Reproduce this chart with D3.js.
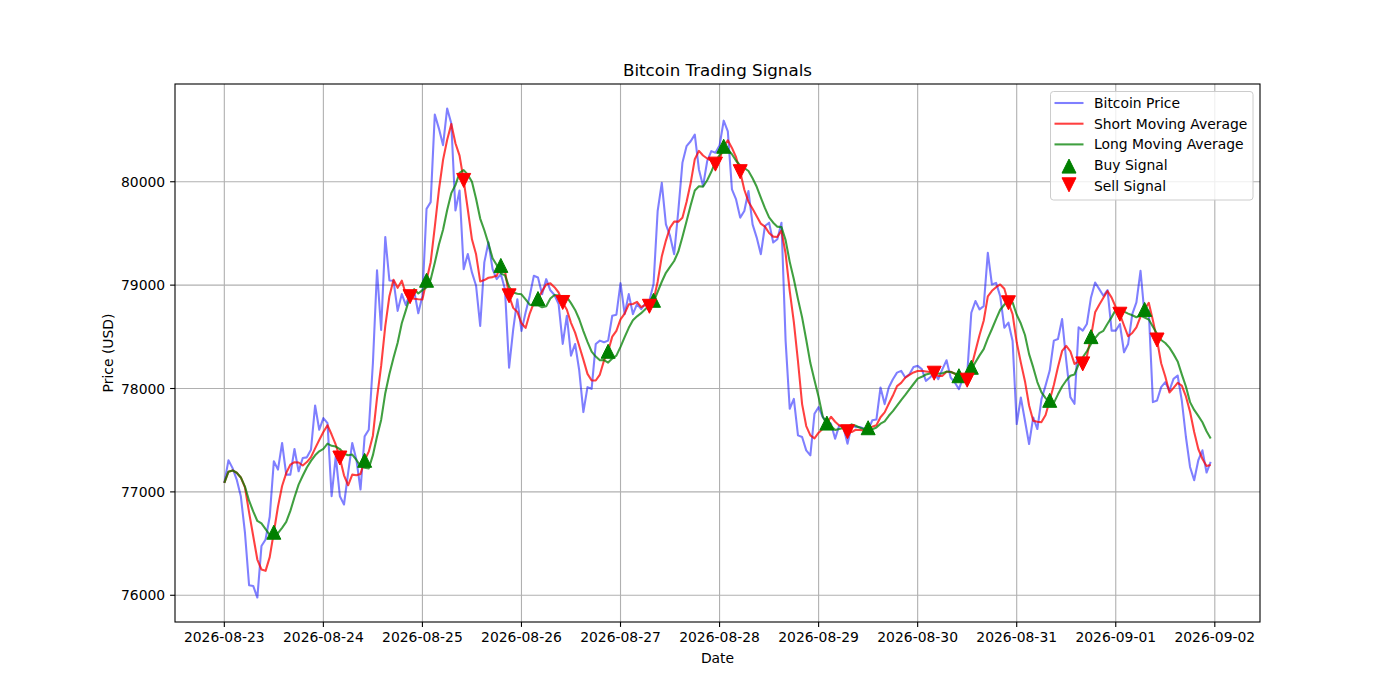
<!DOCTYPE html>
<html>
<head>
<meta charset="utf-8">
<script src="https://cdn.jsdelivr.net/npm/d3@7"></script>
<style>
  body { margin: 0; background: #fff; }
  text { font-family: "DejaVu Sans", sans-serif; fill: #000; }
</style>
</head>
<body>
<div class="canvas"></div>
<script>
// hourly data, starting 2026-08-23 00:00
const startDay = Date.UTC(2026, 7, 23);
const hour = 3600 * 1000;

const price = [
  77087, 77305, 77230, 77119, 76958, 76605, 76097, 76090, 75978, 76476,
  76540, 76759, 77296, 77215, 77473, 77167, 77167, 77415, 77199, 77328,
  77334, 77408, 77836, 77601, 77714, 77665, 76958, 77344, 76958, 76878,
  77183, 77473, 77312, 77023, 77537, 77601, 78244, 79144, 78566, 79466,
  79045, 79042, 78751, 78913, 78806, 78929, 78945, 78728, 78896, 79738,
  79803, 80650, 80514, 80353, 80709, 80563, 79722, 79916, 79155, 79301,
  79123, 78994, 78605, 79220, 79414, 79155, 79058, 79107, 78961, 78201,
  78573, 78864, 78557, 78735, 78896, 79090, 79074, 78913, 79058, 78950,
  78905, 78817, 78431, 78704, 78318, 78431, 78174, 77772, 78013, 77997,
  78431, 78463, 78447, 78463, 78704, 78714, 79019, 78720, 78913, 78720,
  78817, 78768, 78823, 78849, 79010, 79717, 79990, 79588, 79476, 79299,
  79717, 80183, 80344, 80392, 80456, 80119, 79958, 80199, 80296, 80280,
  80350, 80591, 80488, 79926, 79829, 79653, 79717, 79910, 79588, 79460,
  79299, 79572, 79604, 79412, 79444, 79604, 78463, 77804, 77900, 77547,
  77531, 77402, 77354, 77756, 77820, 77724, 77675, 77659, 77514, 77643,
  77627, 77466, 77643, 77627, 77627, 77611, 77595, 77692, 77700, 78010,
  77849, 78010, 78090, 78154, 78171, 78106, 78138, 78209, 78219, 78187,
  78074, 78106, 78154, 78090, 78187, 78273, 78106, 78058, 77994, 78106,
  78138, 78733, 78846, 78765, 78797, 79312, 79006, 79022, 78894, 78588,
  78637, 78460, 77656, 77913, 77688, 77463, 77720, 77608, 77897, 78030,
  78174, 78463, 78479, 78672, 78270, 77917, 77852, 78592, 78560, 78624,
  78881, 79026, 78961, 78897, 78952, 78560, 78560, 78624, 78351, 78431,
  78720, 78833, 79138, 78704, 78752, 77868, 77884, 78013, 78061, 77981,
  78093, 78126, 77884, 77531, 77241, 77113, 77306, 77402, 77187, 77290
];

const shortWindow = 5;
const longWindow = 10;

// hour index of each crossover
const buyIdx = [12, 34, 49, 67, 76, 93, 104, 121, 146, 156, 178, 181, 200, 210, 223];
const sellIdx = [28, 45, 58, 69, 82, 103, 119, 125, 151, 172, 180, 190, 208, 217, 226];

const dayTicks = ['2026-08-23', '2026-08-24', '2026-08-25', '2026-08-26', '2026-08-27', '2026-08-28',
                  '2026-08-29', '2026-08-30', '2026-08-31', '2026-09-01', '2026-09-02'];
const yTicks = [76000, 77000, 78000, 79000, 80000];

const legendNames = ['Bitcoin Price', 'Short Moving Average', 'Long Moving Average', 'Buy Signal', 'Sell Signal'];

const dims = {width: 1400, height: 700, left: 175, right: 1260, top: 84, bottom: 622};
const colours = {price: '#0000ff', short: '#ff0000', long: '#008000', buy: '#008000', sell: '#ff0000', grid: '#b0b0b0'};
const lw = 2.08;   // 1.5pt at 100dpi
const thin = 1.1;  // 0.8pt

const dates = price.map((d, i) => new Date(startDay + i * hour));
const rolling = (arr, w) => arr.map((d, i) => d3.mean(arr.slice(Math.max(0, i - w + 1), i + 1)));
const shortMA = rolling(price, shortWindow);
const longMA = rolling(price, longWindow);

const svg = d3.select('.canvas')
  .append('svg')
    .attr('width', dims.width)
    .attr('height', dims.height);

// scales with matplotlib-like 5% margins
const t0 = dates[0].getTime(), t1 = dates[dates.length - 1].getTime();
const tPad = (t1 - t0) * 0.05;
const x = d3.scaleUtc()
  .domain([new Date(t0 - tPad), new Date(t1 + tPad)])
  .range([dims.left, dims.right]);

const [pMin, pMax] = d3.extent(price);
const pPad = (pMax - pMin) * 0.05;
const y = d3.scaleLinear()
  .domain([pMin - pPad, pMax + pPad])
  .range([dims.bottom, dims.top]);

const parseDay = d3.utcParse('%Y-%m-%d');
const fmtDay = d3.utcFormat('%Y-%m-%d');

// grid
const grid = svg.append('g');
grid.selectAll('.vgrid')
  .data(dayTicks)
  .enter().append('line')
    .attr('x1', d => x(parseDay(d))).attr('x2', d => x(parseDay(d)))
    .attr('y1', dims.top).attr('y2', dims.bottom)
    .attr('stroke', colours.grid).attr('stroke-width', thin);
grid.selectAll('.hgrid')
  .data(yTicks)
  .enter().append('line')
    .attr('x1', dims.left).attr('x2', dims.right)
    .attr('y1', d => y(d)).attr('y2', d => y(d))
    .attr('stroke', colours.grid).attr('stroke-width', thin);

// lines
const line = d3.line()
  .x((d, i) => x(dates[i]))
  .y(d => y(d));

const series = [
  {values: price, colour: colours.price, opacity: 0.5},
  {values: shortMA, colour: colours.short, opacity: 0.75},
  {values: longMA, colour: colours.long, opacity: 0.75}
];

svg.append('g').selectAll('path')
  .data(series)
  .enter().append('path')
    .attr('d', d => line(d.values))
    .attr('fill', 'none')
    .attr('stroke', d => d.colour)
    .attr('stroke-opacity', d => d.opacity)
    .attr('stroke-width', lw)
    .attr('stroke-linejoin', 'round');

// markers
const half = 7;
const upTri = `M0,${-half}L${half},${half}L${-half},${half}Z`;
const downTri = `M0,${half}L${half},${-half}L${-half},${-half}Z`;

svg.append('g').selectAll('path')
  .data(buyIdx)
  .enter().append('path')
    .attr('d', upTri)
    .attr('transform', i => `translate(${x(dates[i])},${y(shortMA[i])})`)
    .attr('fill', colours.buy)
    .attr('stroke', colours.buy).attr('stroke-width', 1);

svg.append('g').selectAll('path')
  .data(sellIdx)
  .enter().append('path')
    .attr('d', downTri)
    .attr('transform', i => `translate(${x(dates[i])},${y(shortMA[i])})`)
    .attr('fill', colours.sell)
    .attr('stroke', colours.sell).attr('stroke-width', 1);

// frame
svg.append('rect')
  .attr('x', dims.left).attr('y', dims.top)
  .attr('width', dims.right - dims.left).attr('height', dims.bottom - dims.top)
  .attr('fill', 'none').attr('stroke', '#000').attr('stroke-width', thin);

// x axis ticks
const xAxis = svg.append('g');
xAxis.selectAll('line')
  .data(dayTicks)
  .enter().append('line')
    .attr('x1', d => x(parseDay(d))).attr('x2', d => x(parseDay(d)))
    .attr('y1', dims.bottom).attr('y2', dims.bottom + 4.9)
    .attr('stroke', '#000').attr('stroke-width', thin);
xAxis.selectAll('text')
  .data(dayTicks)
  .enter().append('text')
    .attr('x', d => x(parseDay(d)))
    .attr('y', dims.bottom + 20)
    .attr('text-anchor', 'middle')
    .attr('font-size', '13.9px')
    .text(d => fmtDay(parseDay(d)));

// y axis ticks
const yAxis = svg.append('g');
yAxis.selectAll('line')
  .data(yTicks)
  .enter().append('line')
    .attr('x1', dims.left - 4.9).attr('x2', dims.left)
    .attr('y1', d => y(d)).attr('y2', d => y(d))
    .attr('stroke', '#000').attr('stroke-width', thin);
yAxis.selectAll('text')
  .data(yTicks)
  .enter().append('text')
    .attr('x', dims.left - 9.8)
    .attr('y', d => y(d) + 5)
    .attr('text-anchor', 'end')
    .attr('font-size', '13.9px')
    .text(d3.format('d'));

// labels
svg.append('text')
  .attr('x', (dims.left + dims.right) / 2)
  .attr('y', 76)
  .attr('text-anchor', 'middle')
  .attr('font-size', '16.7px')
  .text('Bitcoin Trading Signals');

svg.append('text')
  .attr('x', (dims.left + dims.right) / 2)
  .attr('y', 663)
  .attr('text-anchor', 'middle')
  .attr('font-size', '13.9px')
  .text('Date');

svg.append('text')
  .attr('transform', `translate(113,${(dims.top + dims.bottom) / 2}) rotate(-90)`)
  .attr('text-anchor', 'middle')
  .attr('font-size', '13.9px')
  .text('Price (USD)');

// legend
const legend = svg.append('g').attr('transform', 'translate(1050.5,91.5)');
legend.append('rect')
  .attr('width', 202.5).attr('height', 108.5)
  .attr('rx', 3)
  .attr('fill', '#fff').attr('fill-opacity', 0.8)
  .attr('stroke', '#cccccc').attr('stroke-width', 1);

const legendKinds = [
  {type: 'line', colour: colours.price, opacity: 0.5},
  {type: 'line', colour: colours.short, opacity: 0.75},
  {type: 'line', colour: colours.long, opacity: 0.75},
  {type: 'up', colour: colours.buy},
  {type: 'down', colour: colours.sell}
];

const items = legend.selectAll('g')
  .data(legendNames)
  .enter().append('g')
    .attr('transform', (d, i) => `translate(0,${11.5 + i * 20.7})`);

items.each(function(d, i) {
  const k = legendKinds[i];
  const g = d3.select(this);
  if (k.type === 'line') {
    g.append('line')
      .attr('x1', 4).attr('x2', 33)
      .attr('stroke', k.colour).attr('stroke-opacity', k.opacity).attr('stroke-width', lw);
  } else {
    g.append('path')
      .attr('d', k.type === 'up' ? upTri : downTri)
      .attr('transform', `translate(18.5,${k.type === 'up' ? 1 : -1})`)
      .attr('fill', k.colour)
      .attr('stroke', k.colour).attr('stroke-width', 1);
  }
  g.append('text')
    .attr('x', 43.5)
    .attr('y', 5)
    .attr('font-size', '13.9px')
    .text(d);
});
</script>
</body>
</html>
